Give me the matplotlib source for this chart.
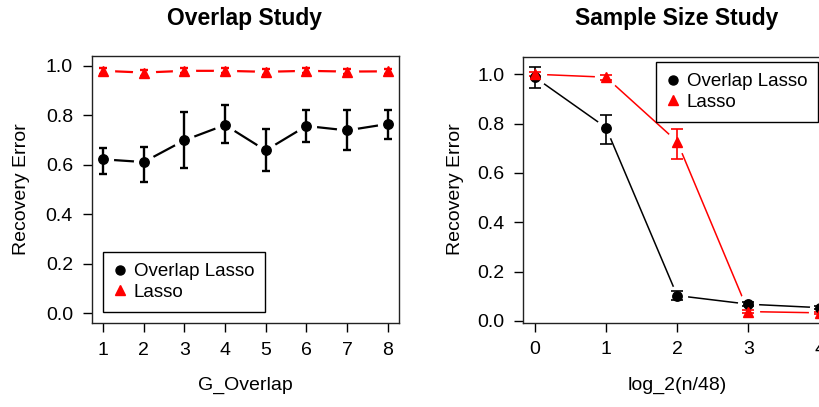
import matplotlib
matplotlib.use('Agg')
import matplotlib.pyplot as plt
from matplotlib import rcParams
import numpy as np

rcParams['font.family'] = ['Liberation Sans', 'DejaVu Sans']
rcParams['font.size'] = 14
rcParams['xtick.direction'] = 'out'
rcParams['ytick.direction'] = 'out'

# ---- data ----
# overlap study
g_overlap = [1, 2, 3, 4, 5, 6, 7, 8]
ov_overlap = [0.622, 0.611, 0.699, 0.761, 0.658, 0.757, 0.739, 0.765]
ov_overlap_lo = [0.564, 0.530, 0.586, 0.689, 0.573, 0.692, 0.658, 0.703]
ov_overlap_hi = [0.666, 0.670, 0.814, 0.841, 0.743, 0.820, 0.820, 0.820]
lasso_overlap = [0.980, 0.973, 0.980, 0.980, 0.976, 0.980, 0.977, 0.978]
lasso_overlap_lo = [0.968, 0.961, 0.970, 0.970, 0.964, 0.970, 0.967, 0.968]
lasso_overlap_hi = [0.992, 0.985, 0.990, 0.990, 0.988, 0.990, 0.987, 0.988]

# sample size study
log2_n = [0, 1, 2, 3, 4]
ov_sample = [0.988, 0.784, 0.103, 0.068, 0.054]
ov_sample_lo = [0.943, 0.716, 0.085, 0.060, 0.048]
ov_sample_hi = [1.031, 0.834, 0.120, 0.076, 0.060]
lasso_sample = [1.000, 0.988, 0.727, 0.038, 0.033]
lasso_sample_lo = [0.992, 0.978, 0.655, 0.032, 0.028]
lasso_sample_hi = [1.008, 0.998, 0.776, 0.044, 0.038]

W, H = 820, 407
fig = plt.figure(figsize=(W / 100, H / 100), dpi=100)


def px_axes(x0, y0, x1, y1):
    # pixel box -> figure fraction
    return fig.add_axes([x0 / W, 1 - y1 / H, (x1 - x0) / W, (y1 - y0) / H])


def series(ax, x, y, lo, hi, color, marker, lw, elw, cap, ms):
    y = np.array(y)
    err = [y - np.array(lo), np.array(hi) - y]
    # R type="b": line with gaps round the points
    ax.plot(x, y, color=color, lw=lw, zorder=1)
    ax.plot(x, y, ls='none', marker='o', ms=ms * 2.1, color='white', zorder=2)
    ax.errorbar(x, y, yerr=err, fmt='none', ecolor=color, elinewidth=elw,
                capsize=cap, capthick=elw, zorder=3)
    ax.plot(x, y, ls='none', marker=marker, ms=ms, color=color, zorder=4)


def style(ax):
    for s in ax.spines.values():
        s.set_linewidth(1.0)
        s.set_color('#222222')
    ax.tick_params(axis='both', length=6.5, width=1.0, pad=7, labelsize=14)
    ax.set_yticks(np.arange(0, 1.01, 0.2))
    ax.set_yticklabels(['%.1f' % v for v in np.arange(0, 1.01, 0.2)])


def legend(ax, x0, y0):
    h1 = plt.Line2D([], [], ls='none', marker='o', color='black', ms=6.5)
    h2 = plt.Line2D([], [], ls='none', marker='^', color='red', ms=7)
    leg = ax.legend([h1, h2], ['Overlap Lasso', 'Lasso'], loc='upper left',
                    bbox_to_anchor=(x0 / W, 1 - y0 / H),
                    bbox_transform=fig.transFigure, fancybox=False,
                    edgecolor='black', framealpha=1, fontsize=13.5,
                    handlelength=0.6, handletextpad=0.45, borderpad=0.6,
                    labelspacing=0.2, borderaxespad=0)
    leg.get_frame().set_linewidth(1.0)


# ---- left panel ----
ax1 = px_axes(91.7, 56, 399, 323)
series(ax1, g_overlap, ov_overlap, ov_overlap_lo, ov_overlap_hi,
       'black', 'o', 1.6, 1.7, 3, 6.8)
series(ax1, g_overlap, lasso_overlap, lasso_overlap_lo, lasso_overlap_hi,
       'red', '^', 1.6, 1.7, 3, 7.5)
ax1.set_xlim(0.72, 8.28)
ax1.set_ylim(-0.04, 1.04)
ax1.set_xticks(g_overlap)
style(ax1)
legend(ax1, 102.7, 251.7)

# ---- right panel (runs off the right edge, as in the original) ----
ax2 = px_axes(523.3, 56.7, 831, 322.7)
series(ax2, log2_n, ov_sample, ov_sample_lo, ov_sample_hi,
       'black', 'o', 1.1, 1.2, 4.3, 6.8)
series(ax2, log2_n, lasso_sample, lasso_sample_lo, lasso_sample_hi,
       'red', '^', 1.1, 1.2, 4.3, 7.5)
ax2.set_xlim(-0.16, 4.16)
ax2.set_ylim(-0.007, 1.071)
ax2.set_xticks(log2_n)
style(ax2)
legend(ax2, 655.7, 61.7)

# titles and axis labels
fig.text(245 / W, 1 - 18 / H, 'Overlap Study', ha='center', va='center',
         fontsize=16.5, fontweight='bold')
fig.text(677 / W, 1 - 18 / H, 'Sample Size Study', ha='center', va='center',
         fontsize=16.5, fontweight='bold')
fig.text(245 / W, 1 - 385 / H, 'G_Overlap', ha='center', va='center', fontsize=14)
fig.text(677 / W, 1 - 385 / H, 'log_2(n/48)', ha='center', va='center', fontsize=14)
fig.text(22 / W, 1 - 189.5 / H, 'Recovery Error', ha='center', va='center',
         rotation=90, fontsize=14)
fig.text(455 / W, 1 - 189.5 / H, 'Recovery Error', ha='center', va='center',
         rotation=90, fontsize=14)

fig.savefig('out.png', dpi=100)
